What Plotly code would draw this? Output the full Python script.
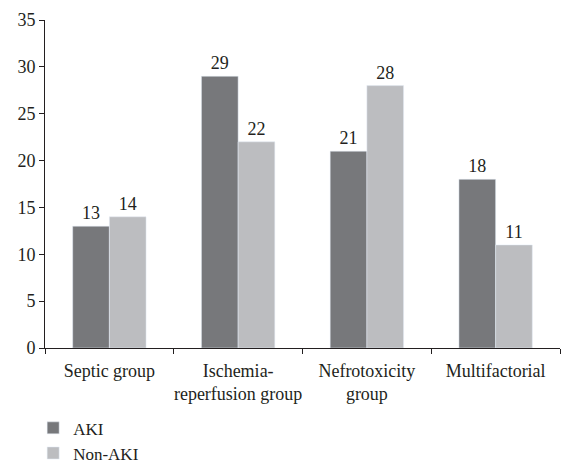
import plotly.graph_objects as go

categories = ["Septic group", "Ischemia-<br>reperfusion group", "Nefrotoxicity<br>group", "Multifactorial"]
aki = [13, 29, 21, 18]
non_aki = [14, 22, 28, 11]
y_ticks = [0, 5, 10, 15, 20, 25, 30, 35]

font = dict(family="Liberation Serif", size=18, color="#231f20")
legend_font = dict(family="Liberation Serif", size=17, color="#231f20")

fig = go.Figure()
fig.add_trace(go.Bar(x=categories, y=aki, name="AKI", marker_color="#77787b",
                     text=aki, textposition="outside", cliponaxis=False,
                     textfont=font))
fig.add_trace(go.Bar(x=categories, y=non_aki, name="Non-AKI", marker_color="#bcbdc0",
                     text=non_aki, textposition="outside", cliponaxis=False,
                     textfont=font))

fig.update_layout(
    width=563, height=465,
    margin=dict(l=45, r=3, t=20, b=117, autoexpand=False),
    paper_bgcolor="white", plot_bgcolor="white",
    font=font,
    barmode="group", bargap=0.43, bargroupgap=0,
    showlegend=True,
    legend=dict(orientation="v", x=-0.023, xanchor="left",
                y=-0.19, yanchor="top",
                font=legend_font, tracegroupgap=0),
    xaxis=dict(showline=True, linecolor="#231f20", linewidth=1,
               ticks="outside", tickson="boundaries", ticklen=5, tickcolor="#231f20",
               showgrid=False, tickfont=font, tickangle=0, automargin=False,
               ticklabelstandoff=6),
    yaxis=dict(range=[0, 35], tickvals=y_ticks, showline=True, linecolor="#231f20",
               linewidth=1, ticks="outside", ticklen=5, tickcolor="#231f20",
               showgrid=False, zeroline=False, tickfont=font, automargin=False),
)

fig.write_html("out.html")
